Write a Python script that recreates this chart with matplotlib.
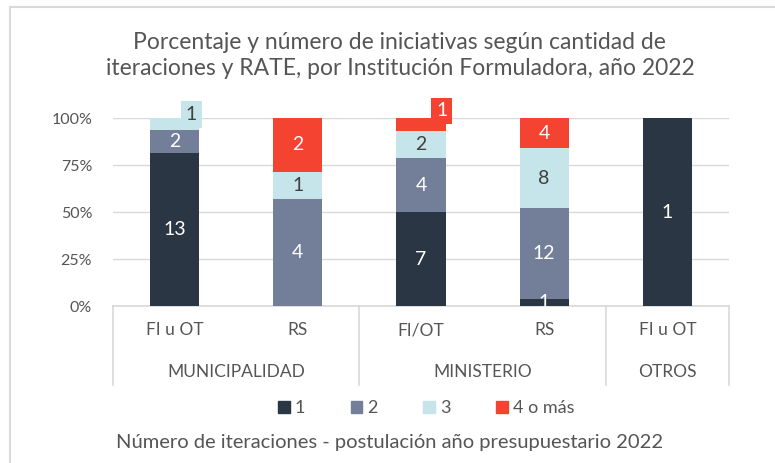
import numpy as np
import matplotlib.pyplot as plt
from matplotlib.lines import Line2D
from matplotlib.transforms import blended_transform_factory

plt.rcParams['font.family'] = ['Lato', 'DejaVu Sans']

# Data: number of initiatives per iteration count
categories = ["FI u OT", "RS", "FI/OT", "RS", "FI u OT"]
groups = ["MUNICIPALIDAD", "MINISTERIO", "OTROS"]
group_spans = [(0, 1), (2, 3), (4, 4)]
series_names = ["1", "2", "3", "4 o más"]
it1 = [13, 0, 7, 1, 1]
it2 = [2, 4, 4, 12, 0]
it3 = [1, 1, 2, 8, 0]
it4 = [0, 2, 1, 4, 0]

colors = ["#2B3644", "#737F99", "#C5E5EA", "#F44331"]
label_colors = ["white", "white", "#404040", "white"]
text_color = "#555555"
grid_color = "#D9D9D9"

counts = np.array([it1, it2, it3, it4], dtype=float)
totals = counts.sum(axis=0)
shares = counts / totals

fig = plt.figure(figsize=(7.75, 4.63), dpi=100)
ax = fig.add_axes([0.1458, 0.339, 0.7948, 0.406])

x = np.arange(len(categories))
bottom = np.zeros(len(categories))
for i, name in enumerate(series_names):
    ax.bar(x, shares[i], 0.4, bottom=bottom, color=colors[i], label=name, zorder=2)
    for j in range(len(categories)):
        if counts[i, j] == 0:
            continue
        yc = bottom[j] + shares[i, j] / 2
        offset = (0, 0)
        box = None
        # labels that Excel pushed out of the thin top segments
        if i == 2 and j == 0:
            offset = (12, 7)
        if i == 3 and j == 2:
            offset = (15, 10)
        if offset != (0, 0) or i == 3:
            box = dict(boxstyle="square,pad=0.25", fc=colors[i], ec="none")
        ax.annotate(str(int(counts[i, j])), (x[j], yc), xytext=offset,
                    textcoords="offset points", ha="center", va="center",
                    fontsize=14, color=label_colors[i], bbox=box, zorder=3,
                    annotation_clip=False)
    bottom += shares[i]

ax.set_xlim(-0.5, len(categories) - 0.5)
ax.set_ylim(0, 1)
ax.set_yticks([0, 0.25, 0.5, 0.75, 1.0])
ax.set_yticklabels(["0%", "25%", "50%", "75%", "100%"])
ax.tick_params(axis="y", length=0, pad=15, labelsize=11.5, labelcolor=text_color)
ax.set_xticks([])
ax.grid(axis="y", color=grid_color, lw=1, zorder=0)
for s in ax.spines.values():
    s.set_visible(False)

# multi-level category axis
trans = blended_transform_factory(ax.transData, ax.transAxes)
ax.plot([-0.5, len(categories) - 0.5], [0, 0], color=grid_color, lw=1.2,
        transform=trans, clip_on=False, zorder=1)
for j, cat in enumerate(categories):
    ax.text(x[j], -0.128, cat, transform=trans, ha="center", va="center",
            fontsize=12.5, color=text_color)
seps = [-0.5]
for g, (a, b) in zip(groups, group_spans):
    ax.text((a + b) / 2, -0.351, g, transform=trans, ha="center", va="center",
            fontsize=12.5, color=text_color)
    seps.append(b + 0.5)
for s in seps:
    ax.plot([s, s], [0, -0.42], color=grid_color, lw=1.2, transform=trans,
            clip_on=False)

fig.text(0.516, 0.881,
         "Porcentaje y número de iniciativas según cantidad de\n"
         "iteraciones y RATE, por Institución Formuladora, año 2022",
         ha="center", va="center", fontsize=16.5, color=text_color,
         linespacing=1.3)

handles = [plt.Rectangle((0, 0), 1, 1, color=c) for c in colors]
fig.legend(handles, series_names, loc="center", bbox_to_anchor=(0.55, 0.119),
           ncol=4, frameon=False, fontsize=13, labelcolor=text_color,
           handlelength=0.65, handleheight=0.65, handletextpad=0.3,
           columnspacing=2.5)

fig.text(0.503, 0.045, "Número de iteraciones - postulación año presupuestario 2022",
         ha="center", va="center", fontsize=14.5, color=text_color)

# outer chart frame (cropped on the right and bottom)
fig.add_artist(Line2D([0.013, 1.0], [0.985, 0.985], color=grid_color, lw=1.5))
fig.add_artist(Line2D([0.013, 0.013], [0.0, 0.985], color=grid_color, lw=1.5))

fig.savefig("out.png", dpi=100)
